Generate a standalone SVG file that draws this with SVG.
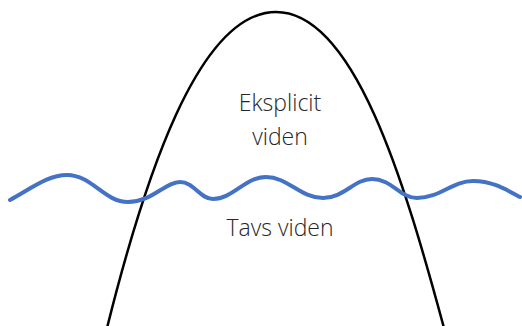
<svg xmlns="http://www.w3.org/2000/svg" width="522" height="326" viewBox="0 0 522 326">
<style>
.lbl{font-family:"Open Sans","Liberation Sans",sans-serif;font-weight:300;font-size:23px;fill:#262626;text-anchor:middle}
.hill{fill:none;stroke:#000;stroke-width:2.5}
.wave{fill:none;stroke:#4472C4;stroke-width:4;stroke-linecap:round}
</style>
<rect width="522" height="326" fill="#fff"/>
<g id="connectors">
<path id="hill" class="hill" d="M107,328 C144,180 198,12 276,12 C354,12 404,180 444,328"/>
<path id="wave" class="wave" d="M10,200 C32,188 48,175 67,175 C92,175 104,202 128,202 C152,202 165,182 180,182 C194,182 200,199 213,199 C233,199 245,177 266,177 C288,177 300,198 323,198 C344,198 354,179 372,179 C392,179 400,198 417,198 C440,198 452,181 473,181 C492,181 505,189 520,197"/>
</g>
<g id="explicit"><text class="lbl" x="280" y="111">Eksplicit</text><text class="lbl" x="280" y="145">viden</text></g>
<g id="tacit"><text class="lbl" x="280" y="236">Tavs viden</text></g>
</svg>
